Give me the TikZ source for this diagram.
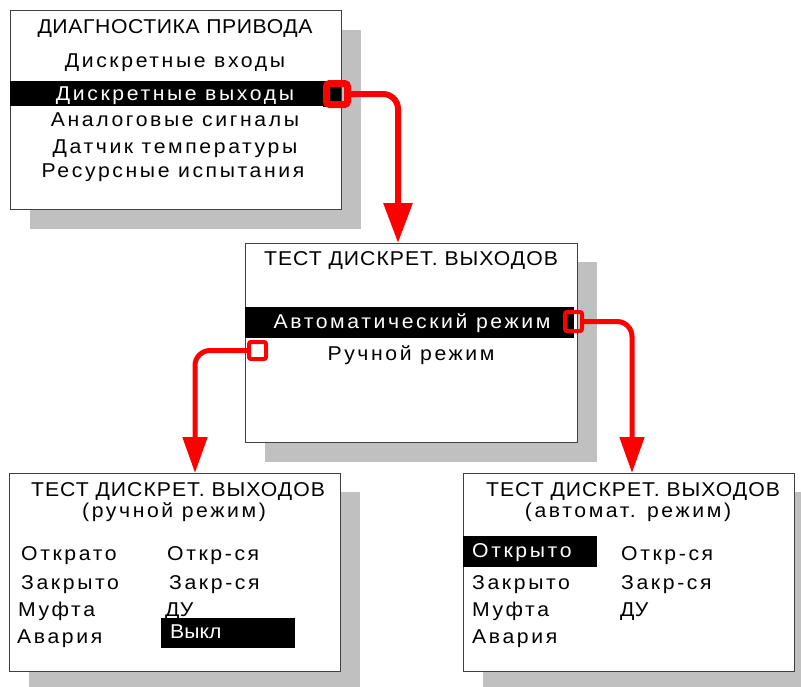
\documentclass[tikz,border=0pt]{standalone}
\usepackage{fontspec}
\setmainfont{Liberation Sans}[FakeStretch=1.06]
\newfontfamily\wide{Liberation Sans}[FakeStretch=1.06,LetterSpace=13]
\newfontfamily\capf{Liberation Sans}[FakeStretch=1.06,LetterSpace=3]
\newfontfamily\capw{Liberation Sans}[FakeStretch=1.06,LetterSpace=5]
\newfontfamily\tight{Liberation Sans}[FakeStretch=1.06]
\usetikzlibrary{arrows.meta}
\definecolor{shadowgray}{RGB}{192,192,192}
\definecolor{lcdred}{RGB}{255,0,0}
\tikzset{
  shadowbox/.style={fill=shadowgray,draw=none},
  screenbox/.style={fill=white,draw=black!75,line width=1pt},
  hibar/.style={fill=black,draw=none},
  captext/.style={inner sep=0pt,anchor=base,font=\capf\fontsize{20}{22}\selectfont},
  testtitle/.style={inner sep=0pt,anchor=base,font=\capw\fontsize{20}{22}\selectfont},
  rowtext/.style={inner sep=0pt,anchor=base,font=\wide\fontsize{20}{22}\selectfont},
  rowleft/.style={inner sep=0pt,anchor=base west,font=\wide\fontsize{20}{22}\selectfont},
  tightleft/.style={inner sep=0pt,anchor=base west,font=\tight\fontsize{20}{22}\selectfont},
  selmark/.style={draw=lcdred,line width=4pt,rounded corners=2pt,fill=none,inner sep=0pt},
  linkbig/.style={draw=lcdred,line width=6pt,rounded corners=15pt,-{Triangle[width=28pt,length=40pt]}},
  linksmall/.style={draw=lcdred,line width=5pt,rounded corners=15pt,-{Triangle[width=24pt,length=36pt]}}
}
\begin{document}
\begin{tikzpicture}[x=1pt,y=-1pt]
\useasboundingbox (0,0) rectangle (801,686);
% ---- top screen
\path[shadowbox] (30,30) rectangle (361,229);
\path[screenbox] (10,10) rectangle (341,209);
\path[hibar] (10,81) rectangle (324,106);
\path[hibar] (323,81) rectangle (341,107);
\node[captext] (t1) at (175,33) {ДИАГНОСТИКА ПРИВОДА};
\node[rowtext] (t2) at (175,67) {Дискретные входы};
\node[rowtext,text=white] (t3) at (175,100) {Дискретные выходы};
\node[rowtext] (t4) at (175,126) {Аналоговые сигналы};
\node[rowtext] (t5) at (175,153) {Датчик температуры};
\node[rowtext] (t6) at (173,177) {Ресурсные испытания};
% ---- middle screen
\path[shadowbox] (265,262) rectangle (597,462);
\path[screenbox] (245,243) rectangle (577,442);
\path[hibar] (245,307) rectangle (574,338);
\node[testtitle] (m1) at (411,265) {ТЕСТ ДИСКРЕТ. ВЫХОДОВ};
\node[rowtext,text=white] (m2) at (412,328) {Автоматический режим};
\node[rowtext] (m3) at (411,360) {Ручной режим};
% ---- bottom-left screen
\path[shadowbox] (29,492) rectangle (360,691);
\path[screenbox] (9,473) rectangle (340,671);
\path[hibar] (161,618) rectangle (295,648);
\node[testtitle] (l1) at (178,496) {ТЕСТ ДИСКРЕТ. ВЫХОДОВ};
\node[rowtext] (l2) at (174,517) {(ручной режим)};
\node[rowleft] (l3) at (21,560) {Открато};
\node[rowleft] (l4) at (21,589) {Закрыто};
\node[rowleft] (l5) at (18,616) {Муфта};
\node[rowleft] (l6) at (17,643) {Авария};
\node[rowleft] (l7) at (167,560) {Откр-ся};
\node[rowleft] (l8) at (169,589) {Закр-ся};
\node[tightleft] (l9) at (165,616) {ДУ};
\node[tightleft,text=white] (l10) at (170,638) {Выкл};
% ---- bottom-right screen
\path[shadowbox] (483,492) rectangle (814,691);
\path[screenbox] (463,473) rectangle (794,671);
\path[hibar] (463,536) rectangle (597,567);
\node[testtitle] (r1) at (633,496) {ТЕСТ ДИСКРЕТ. ВЫХОДОВ};
\node[rowtext] (r2) at (628,517) {(автомат. режим)};
\node[rowleft,text=white] (r3) at (472,557) {Открыто};
\node[rowleft] (r4) at (472,589) {Закрыто};
\node[rowleft] (r5) at (472,616) {Муфта};
\node[rowleft] (r6) at (472,643) {Авария};
\node[rowleft] (r7) at (621,560) {Откр-ся};
\node[rowleft] (r8) at (621,589) {Закр-ся};
\node[tightleft] (r9) at (620,616) {ДУ};
% ---- selection markers
\node[selmark,line width=7pt,rounded corners=3pt,minimum width=21pt,minimum height=21pt] (s1) at (337,94) {};
\node[selmark,minimum width=17pt,minimum height=19pt] (s2) at (573.5,321.5) {};
\node[selmark,minimum width=17pt,minimum height=17pt] (s3) at (257.5,350.5) {};
% ---- connectors
\coordinate (a1) at (398,243);
\coordinate (a2) at (632,473);
\coordinate (a3) at (195,473);
\draw[linkbig] (s1.east) -| (a1);
\draw[linksmall] (s2.east) -| (a2);
\draw[linksmall] (s3.west) -| (a3);
\end{tikzpicture}
\end{document}
